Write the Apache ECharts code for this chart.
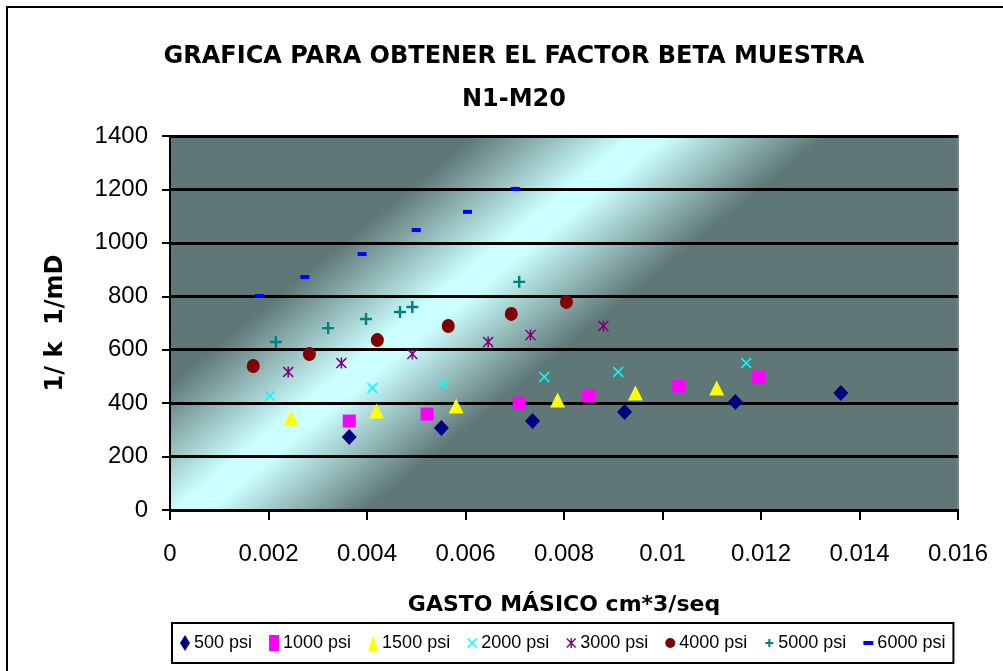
<!DOCTYPE html>
<html>
<head>
<meta charset="utf-8">
<script src="https://cdn.jsdelivr.net/npm/echarts@6/dist/echarts.min.js"></script>
<style>
  html, body { margin: 0; padding: 0; background: #fff; }
  #chart { width: 1003px; height: 671px; }
</style>
</head>
<body>
<div id="chart"></div>
<script>
// series names (legend)
const seriesNames = ["500 psi", "1000 psi", "1500 psi", "2000 psi", "3000 psi", "4000 psi", "5000 psi", "6000 psi"];

// gasto masico (x) and 1/k (y), one pair of arrays per pressure
const gasto500 = [0.00364, 0.00551, 0.00736, 0.00923, 0.01148, 0.01362];
const invK500 = [273, 307, 333, 367, 404, 438];
const gasto1000 = [0.00364, 0.00522, 0.00709, 0.0085, 0.01033, 0.01195];
const invK1000 = [333, 359, 400, 427, 464, 498];
const gasto1500 = [0.00246, 0.00419, 0.00581, 0.00787, 0.00945, 0.0111];
const invK1500 = [344, 371, 389, 412, 438, 457];
const gasto2000 = [0.00203, 0.00411, 0.00553, 0.0076, 0.0091, 0.0117];
const invK2000 = [427, 457, 472, 498, 517, 550];
const gasto3000 = [0.0024, 0.00348, 0.00492, 0.00646, 0.00732, 0.0088];
const invK3000 = [517, 550, 584, 629, 655, 689];
const gasto4000 = [0.00169, 0.00283, 0.00421, 0.00565, 0.00693, 0.00805];
const invK4000 = [539, 584, 636, 689, 734, 779];
const gasto5000 = [0.00215, 0.00321, 0.00398, 0.00467, 0.00492, 0.00709];
const invK5000 = [629, 681, 715, 741, 760, 854];
const gasto6000 = [0.00181, 0.00274, 0.0039, 0.005, 0.00604, 0.00701];
const invK6000 = [801, 872, 958, 1048, 1116, 1202];

// axis ticks
const xTicks = [0, 0.002, 0.004, 0.006, 0.008, 0.01, 0.012, 0.014, 0.016];
const yTicks = [0, 200, 400, 600, 800, 1000, 1200, 1400];

const xs = [gasto500, gasto1000, gasto1500, gasto2000, gasto3000, gasto4000, gasto5000, gasto6000];
const ys = [invK500, invK1000, invK1500, invK2000, invK3000, invK4000, invK5000, invK6000];

const ARIAL = "'Liberation Sans', Arial, sans-serif";
const BOLD_FONT = "'DejaVu Sans', sans-serif";

// marcadores estilo excel
const PLUS = "path://M4,0 H6 V4 H10 V6 H6 V10 H4 V6 H0 V4 H4 Z";
const CROSS = "path://M0,1 L1,0 L5,4 L9,0 L10,1 L6,5 L10,9 L9,10 L5,6 L1,10 L0,9 L4,5 Z";
const STAR = "path://M0,1 L1,0 L5,4 L9,0 L10,1 L6,5 L10,9 L9,10 L5,6 L1,10 L0,9 L4,5 Z M4.3,0 H5.7 V10 H4.3 Z";
const DASH_ICON = "path://M0,0 M0,6 L10,6 L10,10 L0,10 Z M10,16";
const PLUS_ICON = "path://M0,0 M1,7 H4 V4 H6 V7 H9 V9 H6 V12 H4 V9 H1 Z M10,16";

const styles = [
  { symbol: "diamond", size: [15, 16], color: "#000080" },
  { symbol: "rect", size: [13, 13], color: "#ff00ff" },
  { symbol: "triangle", size: [15, 15], color: "#ffff00" },
  { symbol: CROSS, size: [11, 11], color: "#00ffff" },
  { symbol: STAR, size: [11, 11], color: "#800080" },
  { symbol: "circle", size: [13, 14], color: "#800000" },
  { symbol: PLUS, size: [12, 12], color: "#008080" },
  { symbol: "rect", size: [9, 4], color: "#0000ff" },
];

const chart = echarts.init(document.getElementById("chart"));

const option = {
  animation: false,
  textStyle: { fontFamily: ARIAL },
  title: {
    text: "GRAFICA PARA OBTENER EL FACTOR BETA MUESTRA\nN1-M20",
    left: 509,
    top: 30,
    textAlign: "center",
    textStyle: {
      fontFamily: BOLD_FONT,
      fontWeight: "bold",
      fontSize: 24,
      lineHeight: 43,
      color: "#000",
    },
  },
  graphic: [
    {
      type: "rect",
      shape: { x: 7, y: 7, width: 1020, height: 700 },
      style: { fill: "none", stroke: "#000", lineWidth: 2 },
      z: 100,
    },
  ],
  legend: {
    left: 172,
    top: 623,
    padding: [11, 8],
    itemGap: 17,
    itemWidth: 10,
    itemHeight: 16,
    borderColor: "#000",
    borderWidth: 2,
    backgroundColor: "#fff",
    textStyle: { fontSize: 18, color: "#000", fontFamily: ARIAL, padding: [0, 0, 0, -1] },
    data: seriesNames.map((n, i) =>
      i === 7 ? { name: n, icon: DASH_ICON } : i === 6 ? { name: n, icon: PLUS_ICON } : { name: n }
    ),
  },
  grid: {
    left: 170,
    right: 45,
    top: 136,
    bottom: 161,
    show: true,
    borderColor: "#808080",
    borderWidth: 2,
    // banda diagonal clara del fondo de excel
    backgroundColor: {
      type: "linear",
      global: true,
      x: 354,
      y: 234,
      x2: 494,
      y2: 406,
      colorStops: [
        { offset: 0, color: "#5f7777" },
        { offset: 0.45, color: "#ccffff" },
        { offset: 0.55, color: "#ccffff" },
        { offset: 1, color: "#5f7777" },
      ],
    },
  },
  xAxis: {
    type: "value",
    min: xTicks[0],
    max: xTicks[xTicks.length - 1],
    interval: 0.002,
    name: "GASTO MÁSICO cm*3/seq",
    nameLocation: "middle",
    nameGap: 84,
    nameTextStyle: { fontFamily: BOLD_FONT, fontWeight: "bold", fontSize: 22, color: "#000" },
    axisLine: { show: true, onZero: false, lineStyle: { color: "#000", width: 2 } },
    axisTick: { show: true, length: 10, lineStyle: { color: "#000", width: 2 } },
    axisLabel: {
      fontSize: 24,
      color: "#000",
      margin: 32,
      fontFamily: ARIAL,
      formatter: (v) => String(parseFloat(v.toFixed(3))),
    },
    splitLine: { show: false },
  },
  yAxis: {
    type: "value",
    min: yTicks[0],
    max: yTicks[yTicks.length - 1],
    interval: 200,
    name: "1/ k  1/mD",
    nameLocation: "middle",
    nameRotate: 90,
    nameGap: 102,
    nameTextStyle: { fontFamily: BOLD_FONT, fontWeight: "bold", fontSize: 24, color: "#000" },
    axisLine: { show: true, lineStyle: { color: "#000", width: 2 } },
    axisTick: { show: true, length: 8, lineStyle: { color: "#000", width: 2 } },
    axisLabel: { fontSize: 24, color: "#000", margin: 22, fontFamily: ARIAL, formatter: (v) => String(v) },
    splitLine: { show: true, lineStyle: { color: "#000", width: 3 } },
  },
  series: seriesNames.map((name, i) => ({
    name,
    type: "scatter",
    symbol: styles[i].symbol,
    symbolSize: styles[i].size,
    itemStyle: { color: styles[i].color, opacity: 1 },
    data: xs[i].map((x, j) => [x, ys[i][j]]),
  })),
};

chart.setOption(option);
</script>
</body>
</html>
